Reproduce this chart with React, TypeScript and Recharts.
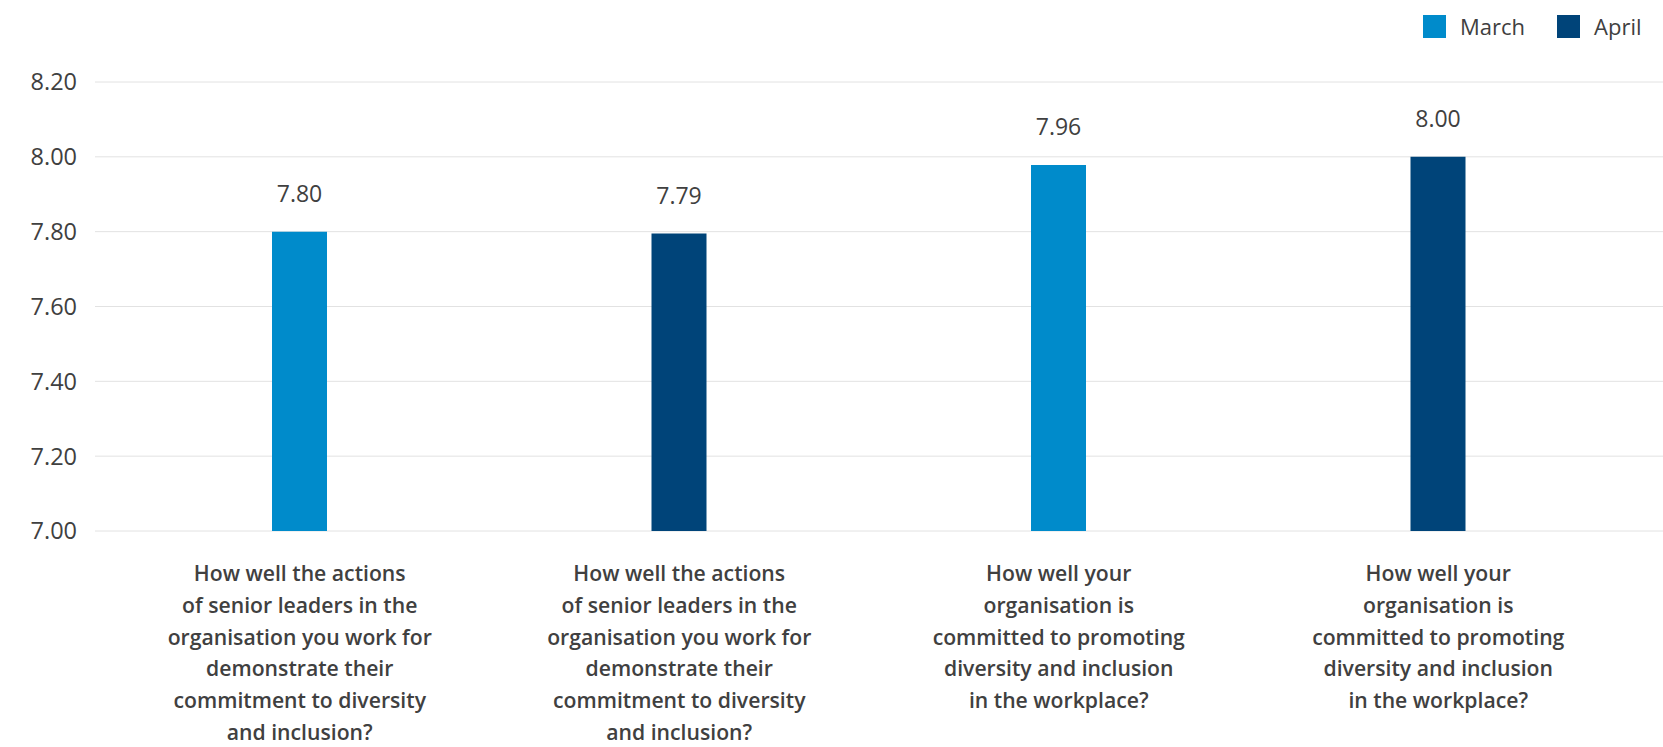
import React from 'react';
import { BarChart, Bar, XAxis, YAxis, CartesianGrid, Cell, LabelList } from 'recharts';

const categories = ['Q1', 'Q2', 'Q3', 'Q4'];
const categoryLines: string[][] = [
  ['How well the actions', 'of senior leaders in the', 'organisation you work for', 'demonstrate their', 'commitment to diversity', 'and inclusion?'],
  ['How well the actions', 'of senior leaders in the', 'organisation you work for', 'demonstrate their', 'commitment to diversity', 'and inclusion?'],
  ['How well your', 'organisation is', 'committed to promoting', 'diversity and inclusion', 'in the workplace?'],
  ['How well your', 'organisation is', 'committed to promoting', 'diversity and inclusion', 'in the workplace?'],
];
const values = [7.8, 7.795, 7.978, 8.0];
const valueLabels = ['7.80', '7.79', '7.96', '8.00'];
const seriesOfBar = ['March', 'April', 'March', 'April'];
const seriesNames = ['March', 'April'];
const seriesColors: Record<string, string> = { March: '#008BCB', April: '#004479' };
const yTicks = [7.0, 7.2, 7.4, 7.6, 7.8, 8.0, 8.2];

const data = categories.map((c, i) => ({ name: c, value: values[i], label: valueLabels[i], idx: i }));

const FONT = '"Open Sans", "Noto Sans", sans-serif';
const TEXT = '#404040';

const CategoryTick = (props: any) => {
  const { x, y, payload } = props;
  const lines = categoryLines[payload.index] || [];
  return (
    <g>
      {lines.map((ln, i) => (
        <text key={i} x={x} y={y + 42 + i * 31.8} textAnchor="middle" fill={TEXT}
          style={{ fontFamily: FONT, fontSize: 21.2, fontWeight: 600 }}>
          {ln}
        </text>
      ))}
    </g>
  );
};

const ValueLabel = (props: any) => {
  const { x, y, width, index } = props;
  return (
    <text x={x + width / 2} y={y - 30} textAnchor="middle" fill={TEXT}
      style={{ fontFamily: FONT, fontSize: 23 }}>
      {valueLabels[index]}
    </text>
  );
};

export default function App() {
  return (
    <div style={{ position: 'absolute', left: 0, top: 0, width: 1663, height: 747, background: '#fff' }}>
      <BarChart width={1663} height={747} data={data} margin={{ top: 82, right: 0, bottom: 0, left: 0 }}>
        <CartesianGrid vertical={false} stroke="#e2e2e2" strokeWidth={1} />
        <XAxis dataKey="name" axisLine={false} tickLine={false} height={216}
          padding={{ left: 15, right: 35 }} interval={0} tick={<CategoryTick />} />
        <YAxis domain={[7, 8.2]} ticks={yTicks} width={95} axisLine={false} tickLine={false}
          tickSize={0} tickMargin={18} allowDataOverflow
          tickFormatter={(v: number) => v.toFixed(2)}
          tick={{ fill: TEXT, fontSize: 23.5, fontFamily: FONT }} />
        <Bar dataKey="value" barSize={55} isAnimationActive={false}>
          {data.map((d, i) => (
            <Cell key={i} fill={seriesColors[seriesOfBar[i]]} />
          ))}
          <LabelList dataKey="label" content={<ValueLabel />} />
        </Bar>
      </BarChart>
      <div style={{ position: 'absolute', left: 1423, top: 15, display: 'flex', alignItems: 'center', fontFamily: FONT, fontSize: 22, color: TEXT }}>
        {seriesNames.map((s, i) => (
          <div key={s} style={{ display: 'flex', alignItems: 'center', marginLeft: i === 0 ? 0 : 32 }}>
            <div style={{ width: 23, height: 23, background: seriesColors[s], marginRight: 14 }} />
            <span style={{ lineHeight: '23px' }}>{s}</span>
          </div>
        ))}
      </div>
    </div>
  );
}
